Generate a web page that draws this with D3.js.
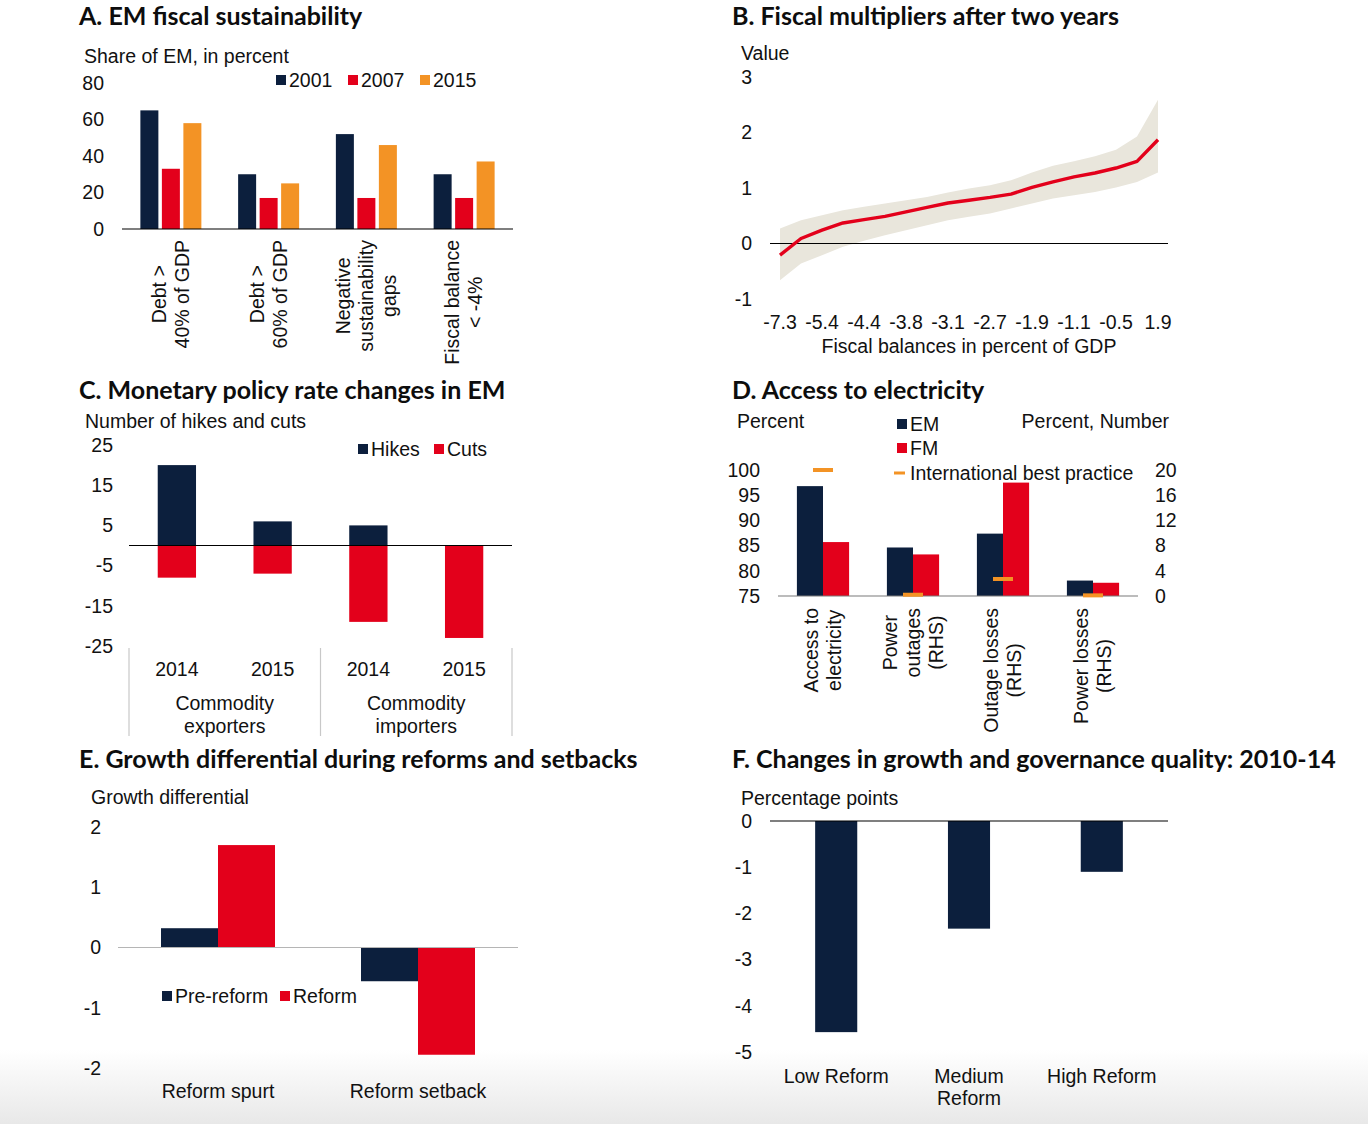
<!DOCTYPE html>
<html>
<head>
<meta charset="utf-8">
<script src="https://cdn.jsdelivr.net/npm/d3@7"></script>
<style>
    body { margin: 0; background: #fff; }
    text { font-family: 'Liberation Sans', Arial, sans-serif; font-size: 19.5px; fill: #111; }
    .title { font-family: Lato, 'Open Sans', sans-serif; font-weight: 700; font-size: 25px; fill: #0d0d0d; }
</style>
</head>
<body>
<div id="chart"></div>
<script>
const navy = '#0c1f3d'
const red = '#e3001b'
const orange = '#f39325'

// A. EM fiscal sustainability
const aCategories = [['Debt >', '40% of GDP'], ['Debt >', '60% of GDP'], ['Negative', 'sustainability', 'gaps'], ['Fiscal balance', '< -4%']]
const aYears = ['2001', '2007', '2015']
const a2001 = [65, 30, 52, 30]
const a2007 = [33, 17, 17, 17]
const a2015 = [58, 25, 46, 37]
const aTicks = [0, 20, 40, 60, 80]

// B. Fiscal multipliers after two years
const bTickLabels = ['-7.3', '-5.4', '-4.4', '-3.8', '-3.1', '-2.7', '-1.9', '-1.1', '-0.5', '1.9']
const bMid = [-0.21, 0.09, 0.24, 0.37, 0.43, 0.49, 0.57, 0.65, 0.73, 0.78, 0.83, 0.89, 1.01, 1.11, 1.20, 1.27, 1.36, 1.48, 1.87]
const bUpper = [0.27, 0.42, 0.51, 0.60, 0.66, 0.72, 0.78, 0.84, 0.92, 0.99, 1.05, 1.14, 1.28, 1.40, 1.48, 1.57, 1.69, 1.93, 2.59]
const bLower = [-0.66, -0.36, -0.21, -0.06, 0.05, 0.15, 0.24, 0.33, 0.42, 0.48, 0.54, 0.63, 0.72, 0.81, 0.87, 0.93, 1.01, 1.11, 1.28]
const bTicks = [-1, 0, 1, 2, 3]

// C. Monetary policy rate changes in EM
const cYears = ['2014', '2015', '2014', '2015']
const cGroups = [['Commodity', 'exporters'], ['Commodity', 'importers']]
const cHikes = [20, 6, 5, 0]
const cCuts = [-8, -7, -19, -23]
const cTicks = [25, 15, 5, -5, -15, -25]

// D. Access to electricity
const dCategories = [['Access to', 'electricity'], ['Power', 'outages', '(RHS)'], ['Outage losses', '(RHS)'], ['Power losses', '(RHS)']]
const dSide = ['left', 'right', 'right', 'right']
const dEM = [96.8, 7.7, 9.9, 2.45]
const dFM = [85.7, 6.6, 18.0, 2.1]
const dBest = [100, 0.2, 2.7, 0.1]
const dLeftTicks = [75, 80, 85, 90, 95, 100]
const dRightTicks = [0, 4, 8, 12, 16, 20]

// E. Growth differential during reforms and setbacks
const eCategories = ['Reform spurt', 'Reform setback']
const ePre = [0.32, -0.56]
const eReform = [1.70, -1.78]
const eTicks = [-2, -1, 0, 1, 2]

// F. Changes in growth and governance quality: 2010-14
const fCategories = [['Low Reform'], ['Medium', 'Reform'], ['High Reform']]
const fValues = [-4.57, -2.33, -1.10]
const fTicks = [0, -1, -2, -3, -4, -5]

const svg = d3.select('#chart').append('svg')
    .attr('width', 1368).attr('height', 1124)

const grad = svg.append('defs').append('linearGradient')
    .attr('id', 'fade').attr('x1', 0).attr('x2', 0).attr('y1', 0).attr('y2', 1)
grad.append('stop').attr('offset', '0%').attr('stop-color', '#fff')
grad.append('stop').attr('offset', '100%').attr('stop-color', '#e8e8e8')
svg.append('rect').attr('x', 0).attr('y', 1050).attr('width', 1368).attr('height', 74)
    .attr('fill', 'url(#fade)')

function title(x, y, txt) {
    svg.append('text').attr('class', 'title').attr('x', x).attr('y', y).text(txt)
}
function label(x, y, txt, anchor = 'start') {
    return svg.append('text').attr('x', x).attr('y', y).attr('dy', '0.35em')
        .style('text-anchor', anchor).text(txt)
}
function yTicks(scale, ticks, x, anchor = 'end') {
    svg.append('g').selectAll('text').data(ticks).join('text')
        .attr('x', x).attr('y', d => scale(d)).attr('dy', '0.35em')
        .style('text-anchor', anchor).text(d => d)
}
function legendBox(x, y, color, txt, w = 10, h = 10) {
    svg.append('rect').attr('x', x).attr('y', y - h / 2).attr('width', w).attr('height', h).attr('fill', color)
    label(x + 13, y, txt)
}
// rotated multi-line category label, block starts at top and lines are centered in it
function rotatedLabel(cx, top, lines) {
    const g = svg.append('g')
    const texts = g.selectAll('text').data(lines).join('text')
        .attr('dy', '0.35em').style('text-anchor', 'middle').text(d => d)
    const maxW = d3.max(texts.nodes(), n => n.getComputedTextLength())
    const cy = top + maxW / 2
    texts.attr('transform', (d, i) => `translate(${cx + (i - (lines.length - 1) / 2) * 23},${cy}) rotate(-90)`)
}
function hLine(x1, x2, y, color = '#000') {
    svg.append('line').attr('x1', x1).attr('x2', x2).attr('y1', y).attr('y2', y)
        .attr('stroke', color).attr('stroke-width', 1.2)
}

// ---- A ----
title(79, 25, 'A. EM fiscal sustainability')
label(84, 56, 'Share of EM, in percent')
const aY = d3.scaleLinear().domain([0, 80]).range([229, 83])
const aX = d3.scaleBand().domain(d3.range(aCategories.length)).range([122, 513])
const aSub = d3.scaleBand().domain(aYears).range([0, aX.bandwidth()]).paddingInner(0.163).paddingOuter(0.855)
yTicks(aY, aTicks, 104)
const aSeries = [a2001, a2007, a2015]
const aColors = [navy, red, orange]
aSeries.forEach((vals, s) => {
    svg.append('g').selectAll('rect').data(vals).join('rect')
        .attr('x', (d, i) => aX(i) + aSub(aYears[s]))
        .attr('width', aSub.bandwidth())
        .attr('y', d => aY(d)).attr('height', d => aY(0) - aY(d))
        .attr('fill', aColors[s])
})
hLine(122, 513, aY(0))
aCategories.forEach((lines, i) => rotatedLabel(aX(i) + aX.bandwidth() / 2, 240, lines))
aYears.forEach((yr, i) => legendBox(276 + i * 72, 80, aColors[i], yr))

// ---- B ----
title(732, 25, 'B. Fiscal multipliers after two years')
label(741, 53, 'Value')
const bY = d3.scaleLinear().domain([-1, 3]).range([299, 77])
const bX = d3.scalePoint().domain(d3.range(bMid.length)).range([780, 1158])
yTicks(bY, bTicks, 752)
svg.append('path')
    .datum(d3.range(bMid.length))
    .attr('fill', '#e9e6dc')
    .attr('d', d3.area().x(i => bX(i)).y0(i => bY(bLower[i])).y1(i => bY(bUpper[i])))
hLine(770, 1168, bY(0))
svg.append('path')
    .datum(d3.range(bMid.length))
    .attr('fill', 'none').attr('stroke', red).attr('stroke-width', 3.4)
    .attr('stroke-linejoin', 'round')
    .attr('d', d3.line().x(i => bX(i)).y(i => bY(bMid[i])))
svg.append('g').selectAll('text').data(bTickLabels).join('text')
    .attr('x', (d, i) => bX(i * 2)).attr('y', 322).attr('dy', '0.35em')
    .style('text-anchor', 'middle').text(d => d)
label(969, 346, 'Fiscal balances in percent of GDP', 'middle')

// ---- C ----
title(79, 399, 'C. Monetary policy rate changes in EM')
label(85, 421, 'Number of hikes and cuts')
const cY = d3.scaleLinear().domain([-25, 25]).range([646, 445])
const cX = d3.scaleBand().domain(d3.range(cYears.length)).range([129, 512]).paddingInner(0.6).paddingOuter(0.3)
yTicks(cY, cTicks, 113)
svg.append('g').selectAll('rect').data(cHikes).join('rect')
    .attr('x', (d, i) => cX(i)).attr('width', cX.bandwidth())
    .attr('y', d => cY(d)).attr('height', d => cY(0) - cY(d))
    .attr('fill', navy)
svg.append('g').selectAll('rect').data(cCuts).join('rect')
    .attr('x', (d, i) => cX(i)).attr('width', cX.bandwidth())
    .attr('y', cY(0)).attr('height', d => cY(d) - cY(0))
    .attr('fill', red)
hLine(129, 512, cY(0))
const cStep = cX.step()
const cEdges = [129, 129 + cStep * 2, 512]
cEdges.forEach(x => svg.append('line').attr('x1', x).attr('x2', x).attr('y1', 648).attr('y2', 736)
    .attr('stroke', '#c8c8c8').attr('stroke-width', 1.2))
cYears.forEach((yr, i) => label(cX(i) + cX.bandwidth() / 2, 669, yr, 'middle'))
cGroups.forEach((lines, g) => lines.forEach((t, j) =>
    label((cEdges[g] + cEdges[g + 1]) / 2, 703 + j * 23, t, 'middle')))
legendBox(358, 449, navy, 'Hikes')
legendBox(434, 449, red, 'Cuts')

// ---- D ----
title(732, 399, 'D. Access to electricity')
label(737, 421, 'Percent')
label(1169, 421, 'Percent, Number', 'end')
const dYL = d3.scaleLinear().domain([75, 100]).range([596, 470])
const dYR = d3.scaleLinear().domain([0, 20]).range([596, 470])
const dX = d3.scaleBand().domain(d3.range(dCategories.length)).range([778, 1138]).paddingInner(0.42).paddingOuter(0.21)
const dScale = i => dSide[i] == 'left' ? dYL : dYR
yTicks(dYL, dLeftTicks, 760)
yTicks(dYR, dRightTicks, 1155, 'start')
const dHalf = dX.bandwidth() / 2
;[dEM, dFM].forEach((vals, s) => {
    svg.append('g').selectAll('rect').data(vals).join('rect')
        .attr('x', (d, i) => dX(i) + s * dHalf).attr('width', dHalf)
        .attr('y', (d, i) => dScale(i)(d))
        .attr('height', (d, i) => 596 - dScale(i)(d))
        .attr('fill', s == 0 ? navy : red)
})
hLine(778, 1138, 596, '#7a7a7a')
svg.append('g').selectAll('rect').data(dBest).join('rect')
    .attr('x', (d, i) => dX(i) + dHalf - 10).attr('width', 20)
    .attr('y', (d, i) => dScale(i)(d) - 2).attr('height', 4)
    .attr('fill', orange)
dCategories.forEach((lines, i) => rotatedLabel(dX(i) + dHalf, 608, lines))
legendBox(897, 424, navy, 'EM')
legendBox(897, 448, red, 'FM')
svg.append('rect').attr('x', 894).attr('y', 471.5).attr('width', 11).attr('height', 3).attr('fill', orange)
label(910, 473, 'International best practice')

// ---- E ----
title(79, 768, 'E. Growth differential during reforms and setbacks')
label(91, 797, 'Growth differential')
const eY = d3.scaleLinear().domain([-2, 2]).range([1068, 827])
const eX = d3.scaleBand().domain(eCategories).range([118, 518]).paddingInner(0.43).paddingOuter(0.215)
yTicks(eY, eTicks, 101)
const eHalf = eX.bandwidth() / 2
;[ePre, eReform].forEach((vals, s) => {
    svg.append('g').selectAll('rect').data(vals).join('rect')
        .attr('x', (d, i) => eX(eCategories[i]) + s * eHalf).attr('width', eHalf)
        .attr('y', d => eY(Math.max(0, d)))
        .attr('height', d => Math.abs(eY(d) - eY(0)))
        .attr('fill', s == 0 ? navy : red)
})
hLine(118, 518, eY(0), '#b5b5b5')
eCategories.forEach(c => label(eX(c) + eHalf, 1091, c, 'middle'))
legendBox(162, 996, navy, 'Pre-reform')
legendBox(280, 996, red, 'Reform')

// ---- F ----
title(732, 768, 'F. Changes in growth and governance quality: 2010-14')
label(741, 798, 'Percentage points')
const fY = d3.scaleLinear().domain([-5, 0]).range([1052, 821])
const fX = d3.scaleBand().domain(d3.range(fValues.length)).range([770, 1168]).paddingInner(0.683).paddingOuter(0.34)
yTicks(fY, fTicks, 752)
svg.append('g').selectAll('rect').data(fValues).join('rect')
    .attr('x', (d, i) => fX(i)).attr('width', fX.bandwidth())
    .attr('y', fY(0)).attr('height', d => fY(d) - fY(0))
    .attr('fill', navy)
hLine(770, 1168, fY(0))
fCategories.forEach((lines, i) => lines.forEach((t, j) =>
    label(fX(i) + fX.bandwidth() / 2, 1076 + j * 22, t, 'middle')))
</script>
</body>
</html>
